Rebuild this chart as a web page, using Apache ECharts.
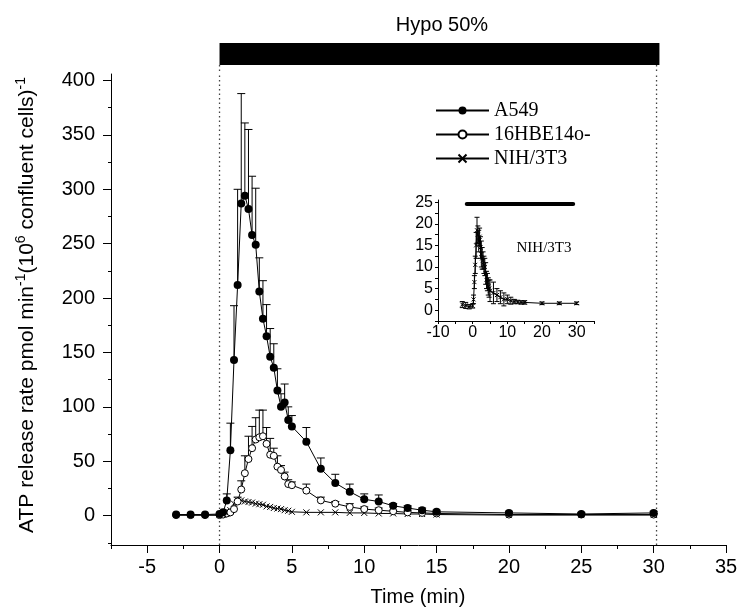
<!DOCTYPE html>
<html><head><meta charset="utf-8">
<script src="https://cdn.jsdelivr.net/npm/echarts@6/dist/echarts.min.js"></script>
<style>html,body{margin:0;padding:0;background:#fff}#c{width:743px;height:612px}</style>
</head><body><div id="c"></div>
<script>
// ---------- data ----------
const times = [-3,-2,-1,0,0.25,0.5,0.75,1,1.25,1.5,1.75,2,2.25,2.5,2.75,3,3.25,3.5,3.75,4,4.25,4.5,4.75,5,6,7,8,9,10,11,12,13,14,15,20,25,30];
const a549 = [1,1,1,1.5,3,14,60,143,212,287,294,282,258,249,206,181,165,146,136,115,100,104,88,82,68,43,30,22,15,13,9,7,5,3.5,2.5,1.5,2.5];
const a549Upper = [null,null,null,null,null,20,85,193,300,388,361,355,312,301,237,216,194,172,158,135,112,121,100,92,81,53,38,29,20,19,11,9,7,5,4,3,4];
const hbe = [0.5,0.5,0.5,0.5,1,2,3,6,13,24,39,52,62,70,72,73,66,56,55,45,42,36,29,28,23,14,11,8,6,5,4,3,2.5,2,1,1,1];
const hbeUpper = [null,null,null,null,null,null,null,null,17,32,55,73,82,90,97,97,81,71,62,55,46,40,33,31,29,17,13,11,8,7,5,4.5,4,3,2,2,2];
const nih = [0.5,0.5,0.5,0.5,1,2,5,11,14,14,13,12.5,12,11,10.5,10,8.5,8,7,6.5,6,5,4.5,3.5,3,3,3,2.5,2.5,2,2,1.5,1.5,1,0.5,0.5,0.5];
const insetNih = [1.3,1.1,0.8,1.0,2.5,6.5,10.5,15,18.5,17.5,16,17,14.5,13,12,11.5,10.5,10,8.5,7,6.5,5.5,5,4.5,4,3.5,3,2.5,2.5,2.2,2,1.9,1.8,1.8,1.6,1.6,1.6];
const insetNihUpper = [2,1.8,1.3,1.5,3.5,8,12.5,18,21.5,19.5,18.5,19,17,16,14.5,13.5,12.5,12,11,9,8.5,7.5,7,7,6.5,5,4.5,4,3.5,3,2.5,2.3,2.2,2.2,1.9,1.9,1.9];
const seriesNames = ['A549','16HBE14o-','NIH/3T3'];
const xMajorTicks = [-5,0,5,10,15,20,25,30,35];
const xMinorTicks = [-7.5,-2.5,2.5,7.5,12.5,17.5,22.5,27.5,32.5];
const yMajorTicks = [0,50,100,150,200,250,300,350,400];
const yMinorTicks = [-25,25,75,125,175,225,275,325,375];
const insetXTicks = [-10,-5,0,5,10,15,20,25,30,35];
const insetXLabels = [-10,0,10,20,30];
const insetYTicks = [-2.5,0,2.5,5,7.5,10,12.5,15,17.5,20,22.5,25];
const insetYLabels = [0,5,10,15,20,25];
const hypoBar = [0,30.4];
const hypoLines = [0,30.2];
const insetBar = [-1.7,29];
const insetBarLevel = 24.6;

// ---------- layout ----------
const X_MIN=-7.5, X_MAX=35, Y_MIN=-27, Y_MAX=406;
const SANS='"Liberation Sans", Arial, sans-serif';
const SERIF='"Liberation Serif", "Times New Roman", serif';

function pairs(vals){ const d=[]; times.forEach((t,i)=>{ if(vals[i]!=null) d.push([t,vals[i]]); }); return d; }
function errSeries(vals, ups, xi, yi, capW, both){
  const data=[]; times.forEach((t,i)=>{ if(ups[i]!=null && vals[i]!=null) data.push([t,vals[i],ups[i]]); });
  return {type:'custom', xAxisIndex:xi, yAxisIndex:yi, data, z:1, silent:true,
    encode:{x:0,y:[1,2]},
    renderItem(params, api){
      const t=api.value(0), v=api.value(1), u=api.value(2);
      const lo = both ? 2*v-u : v;
      const p0=api.coord([t,lo]), p1=api.coord([t,u]);
      const st={stroke:'#000', lineWidth:1};
      const ch=[{type:'line',shape:{x1:p0[0],y1:p0[1],x2:p1[0],y2:p1[1]},style:st},
                {type:'line',shape:{x1:p1[0]-capW,y1:p1[1],x2:p1[0]+capW,y2:p1[1]},style:st}];
      if(both) ch.push({type:'line',shape:{x1:p0[0]-capW,y1:p0[1],x2:p0[0]+capW,y2:p0[1]},style:st});
      return {type:'group',children:ch};
    }};
}
const crossPath='path://M0,0L10,10M10,0L0,10';
const axLine={onZero:false,lineStyle:{color:'#000',width:1}};
const noLine={show:false,onZero:false};

const chart=echarts.init(document.getElementById('c'),null,{renderer:'canvas'});
chart.setOption({
  animation:false,
  backgroundColor:'#fff',
  grid:[
    {left:111,right:17,top:74,bottom:67},
    {left:111,right:17,top:43,height:31},
    {left:438,top:200,width:156,height:121}
  ],
  xAxis:[
    {gridIndex:0,type:'value',min:X_MIN,max:X_MAX,axisLine:axLine,splitLine:{show:false},
     axisTick:{customValues:xMajorTicks,length:8,lineStyle:{color:'#000'}},
     axisLabel:{customValues:xMajorTicks,margin:12,color:'#000',fontSize:20,fontFamily:SANS}},
    {gridIndex:0,type:'value',position:'bottom',min:X_MIN,max:X_MAX,axisLine:noLine,splitLine:{show:false},
     axisTick:{customValues:xMinorTicks,length:4,lineStyle:{color:'#000'}},axisLabel:{show:false}},
    {gridIndex:1,type:'value',min:X_MIN,max:X_MAX,show:false},
    {gridIndex:2,type:'value',min:-10,max:35,axisLine:axLine,splitLine:{show:false},
     axisTick:{customValues:insetXTicks,length:3,lineStyle:{color:'#000'}},
     axisLabel:{customValues:insetXLabels,margin:4,color:'#000',fontSize:16,fontFamily:SANS}}
  ],
  yAxis:[
    {gridIndex:0,type:'value',min:Y_MIN,max:Y_MAX,axisLine:Object.assign({show:true},axLine),splitLine:{show:false},
     axisTick:{show:true,customValues:yMajorTicks,length:8,lineStyle:{color:'#000'}},
     axisLabel:{customValues:yMajorTicks,margin:16,color:'#000',fontSize:20,fontFamily:SANS}},
    {gridIndex:0,type:'value',position:'left',offset:0,min:Y_MIN,max:Y_MAX,axisLine:noLine,splitLine:{show:false},
     axisTick:{show:true,customValues:yMinorTicks,length:3,lineStyle:{color:'#000'}},axisLabel:{show:false}},
    {gridIndex:1,type:'value',min:0,max:1,show:false},
    {gridIndex:2,type:'value',min:-2.5,max:25.5,axisLine:Object.assign({show:true},axLine),splitLine:{show:false},
     axisTick:{show:true,customValues:insetYTicks,length:3,lineStyle:{color:'#000'}},
     axisLabel:{customValues:insetYLabels,margin:5,color:'#000',fontSize:16,fontFamily:SANS}}
  ],
  legend:{
    data:seriesNames, orient:'vertical', left:435, top:100, padding:0,
    itemWidth:53, itemHeight:10, itemGap:3,
    textStyle:{fontFamily:SERIF,fontSize:20,color:'#000',lineHeight:21},
    selectedMode:false
  },
  graphic:[
    {type:'text',x:442,y:25,style:{text:'Hypo 50%',font:'20px '+SANS,fill:'#000',align:'center',verticalAlign:'middle'}},
    {type:'text',x:418,y:597,style:{text:'Time (min)',font:'20px '+SANS,fill:'#000',align:'center',verticalAlign:'middle'}},
    {type:'text',x:27,y:305,rotation:Math.PI/2,style:{
      text:'ATP release rate pmol min{s|-1}(10{s|6} confluent cells){s|-1}',
      font:'21px '+SANS,fill:'#000',align:'center',verticalAlign:'middle',lineHeight:25,
      rich:{s:{fontSize:14,fontFamily:SANS,fill:'#000',verticalAlign:'top',lineHeight:15}}}},
    {type:'text',x:544,y:248,style:{text:'NIH/3T3',font:'15px '+SERIF,fill:'#000',align:'center',verticalAlign:'middle'}}
  ],
  series:[
    {type:'custom',xAxisIndex:2,yAxisIndex:2,data:[hypoBar],silent:true,
     renderItem(params,api){
       const a=api.coord([api.value(0),1]), b=api.coord([api.value(1),0.29]);
       const ch=[{type:'rect',shape:{x:a[0],y:a[1],width:b[0]-a[0],height:b[1]-a[1]},style:{fill:'#000'}}];
       hypoLines.forEach(t=>{const p=api.coord([t,0.29]), q=api.coord([t,0]);
         ch.push({type:'line',shape:{x1:p[0],y1:p[1],x2:q[0],y2:q[1]},style:{stroke:'#444',lineWidth:1.3,lineDash:[1.5,3]}});});
       return {type:'group',children:ch};
     }},
    {type:'custom',xAxisIndex:0,yAxisIndex:0,data:hypoLines.map(t=>[t]),silent:true,z:0,
     renderItem(params,api){
       const t=api.value(0); const p=api.coord([t,Y_MIN]), q=api.coord([t,Y_MAX]);
       return {type:'line',shape:{x1:p[0],y1:p[1],x2:q[0],y2:q[1]},style:{stroke:'#444',lineWidth:1.3,lineDash:[1.5,3]}};
     }},
    errSeries(a549,a549Upper,0,0,4,false),
    errSeries(hbe,hbeUpper,0,0,4,false),
    {name:'NIH/3T3',type:'line',xAxisIndex:0,yAxisIndex:0,data:pairs(nih),z:2,
     symbol:crossPath,symbolSize:6,lineStyle:{color:'#000',width:1},
     itemStyle:{color:'#000',borderColor:'#000',borderWidth:1}},
    {name:'16HBE14o-',type:'line',xAxisIndex:0,yAxisIndex:0,data:pairs(hbe),z:3,
     symbol:'circle',symbolSize:7,lineStyle:{color:'#000',width:1},
     itemStyle:{color:'#fff',borderColor:'#000',borderWidth:1}},
    {name:'A549',type:'line',xAxisIndex:0,yAxisIndex:0,data:pairs(a549),z:4,
     symbol:'circle',symbolSize:8,lineStyle:{color:'#000',width:1},
     itemStyle:{color:'#000',borderColor:'#000',borderWidth:0}},
    {type:'line',xAxisIndex:3,yAxisIndex:3,data:insetBar.map(t=>[t,insetBarLevel]),symbol:'none',silent:true,
     lineStyle:{color:'#000',width:4,cap:'round'}},
    errSeries(insetNih,insetNihUpper,3,3,2.5,true),
    {name:'inset',type:'line',xAxisIndex:3,yAxisIndex:3,data:pairs(insetNih),z:3,
     symbol:crossPath,symbolSize:4,lineStyle:{color:'#000',width:1},
     itemStyle:{color:'#000',borderColor:'#000',borderWidth:1}}
  ]
});
</script></body></html>
